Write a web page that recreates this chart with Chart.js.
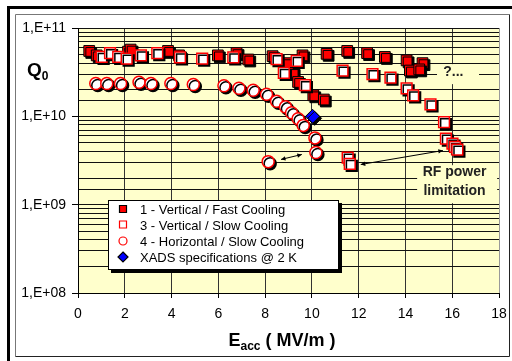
<!DOCTYPE html>
<html>
<head>
<meta charset="utf-8">
<script src="https://cdn.jsdelivr.net/npm/chart.js@4"></script>
<style>
  html, body { margin: 0; padding: 0; background: #fff; }
  #wrap { position: relative; width: 512px; height: 361px; overflow: hidden; }
  #outer { position: absolute; left: 7px; top: 6px; width: 600px; height: 500px; border: 3px solid #000; box-sizing: border-box; }
  canvas { position: absolute; left: 0; top: 0; }
</style>
</head>
<body>
<div id="wrap">
  <div id="outer"></div>
  <canvas id="chart" width="512" height="361"></canvas>
</div>
<script>
// ─── DATA ────────────────────────────────────────────────────────
// Eacc in MV/m, Q0 dimensionless
const fastE = [0.48, 0.80, 2.14, 2.25, 3.85, 4.32, 5.98, 6.78, 7.28, 8.32, 8.94, 9.60, 9.18, 9.41, 10.06, 10.51, 10.63, 11.51, 12.36, 13.12, 14.05, 14.73, 14.19, 14.59];
const fastQ = [5.5e10, 4.9e10, 5.4e10, 5.7e10, 5.5e10, 4.9e10, 4.9e10, 5.2e10, 4.4e10, 4.8e10, 4.0e10, 4.9e10, 3.1e10, 2.45e10, 1.73e10, 1.55e10, 5.1e10, 5.5e10, 5.2e10, 4.7e10, 4.3e10, 4.0e10, 3.3e10, 3.4e10];

const slowE = [1.01, 1.37, 1.72, 2.08, 2.69, 3.39, 4.36, 5.31, 6.64, 8.49, 9.35, 8.80, 9.70, 11.31, 12.59, 13.36, 14.05, 14.33, 15.07, 15.65, 15.73, 16.01, 16.12, 16.22, 11.53, 11.62];
const slowQ = [4.7e10, 5.2e10, 4.7e10, 4.5e10, 4.9e10, 5.2e10, 4.65e10, 4.5e10, 4.65e10, 4.45e10, 4.25e10, 3.1e10, 2.25e10, 3.3e10, 3.0e10, 2.75e10, 2.07e10, 1.73e10, 1.37e10, 8.6e9, 5.6e9, 4.9e9, 4.5e9, 4.2e9, 3.4e9, 2.9e9];

const horizE = [0.76, 1.23, 1.82, 2.61, 3.12, 3.97, 4.93, 6.24, 6.88, 7.49, 8.06, 8.49, 8.87, 9.13, 9.41, 9.63, 10.13, 10.17, 8.13];
const horizQ = [2.35e10, 2.35e10, 2.35e10, 2.43e10, 2.35e10, 2.35e10, 2.29e10, 2.22e10, 2.08e10, 1.97e10, 1.78e10, 1.48e10, 1.28e10, 1.10e10, 9.4e9, 7.9e9, 5.7e9, 3.9e9, 3.07e9];

const xadsE = [10.03];
const xadsQ = [1.0e10];

const seriesLabels = [
  "1 - Vertical / Fast Cooling",
  "3 - Vertical / Slow Cooling",
  "4 - Horizontal / Slow Cooling",
  "XADS specifications @ 2 K"
];

const xTicks = [0, 2, 4, 6, 8, 10, 12, 14, 16, 18];
const yDecades = [1e8, 1e9, 1e10, 1e11];

// Helper: zip two arrays into {x, y} points
function toPoints(xs, ys) {
  return xs.map((x, i) => ({ x: x, y: ys[i] }));
}

function isDecade(v) {
  const l = Math.log10(v);
  return Math.abs(l - Math.round(l)) < 1e-9;
}

function sciLabel(v) {
  const exp = Math.round(Math.log10(v));
  return "1,E+" + String(exp).padStart(2, "0");
}

const FONT = "'Liberation Sans', Arial, sans-serif";

// ─── PLUGINS ─────────────────────────────────────────────────────
// Plot background + inner frame
const backdrop = {
  id: "backdrop",
  beforeDraw(chart) {
    const { ctx, chartArea: a } = chart;
    ctx.save();
    ctx.fillStyle = "#fff";
    ctx.fillRect(15, 14, 494, 342);
    ctx.strokeStyle = "#777";
    ctx.lineWidth = 1;
    ctx.beginPath();
    ctx.moveTo(15.5, 356.5); ctx.lineTo(15.5, 14.5); ctx.lineTo(509.5, 14.5);
    ctx.stroke();
    ctx.strokeStyle = "#222";
    ctx.beginPath();
    ctx.moveTo(509.5, 14.5); ctx.lineTo(509.5, 356.5); ctx.lineTo(15.5, 356.5);
    ctx.stroke();
    ctx.fillStyle = "#FFFFCC";
    ctx.fillRect(a.left, a.top, a.right - a.left, a.bottom - a.top);
    ctx.restore();
  }
};

// Drop shadow under the markers
const markerShadow = {
  id: "markerShadow",
  beforeDatasetsDraw(chart) {
    const ctx = chart.ctx;
    ctx.save();
    ctx.shadowColor = "#000";
    ctx.shadowOffsetX = 2;
    ctx.shadowOffsetY = 2;
    ctx.shadowBlur = 0;
  },
  afterDatasetsDraw(chart) {
    chart.ctx.restore();
  }
};

// Annotations, axis titles and the legend box
const notes = {
  id: "notes",
  beforeDatasetsDraw(chart) {
    const { ctx, scales: { x, y } } = chart;
    ctx.save();
    // boxes that hide the grid behind the notes
    ctx.fillStyle = "#FFFFCC";
    ctx.fillRect(x.getPixelForValue(15.35), y.getPixelForValue(3.9e10), 42, 20);
    ctx.fillRect(x.getPixelForValue(14.5), y.getPixelForValue(2.8e9), 80, 38);

    ctx.fillStyle = "#222";
    ctx.font = "bold 14px " + FONT;
    ctx.textAlign = "center";
    ctx.textBaseline = "middle";
    ctx.fillText("?...", x.getPixelForValue(16.05), y.getPixelForValue(3.16e10));
    ctx.fillText("RF power", x.getPixelForValue(16.1), y.getPixelForValue(2.31e9));
    ctx.fillText("limitation", x.getPixelForValue(16.1), y.getPixelForValue(1.44e9));

    // double headed arrows
    drawArrow(ctx, x.getPixelForValue(8.68), y.getPixelForValue(3.25e9), x.getPixelForValue(9.57), y.getPixelForValue(3.7e9));
    drawArrow(ctx, x.getPixelForValue(12.09), y.getPixelForValue(2.85e9), x.getPixelForValue(15.6), y.getPixelForValue(4.1e9));
    ctx.restore();
  },
  afterDraw(chart) {
    const ctx = chart.ctx;
    ctx.save();
    ctx.fillStyle = "#000";
    ctx.textBaseline = "alphabetic";
    ctx.textAlign = "left";

    // Q0 label
    ctx.font = "bold 19px " + FONT;
    ctx.fillText("Q", 27, 76);
    const qw = ctx.measureText("Q").width;
    ctx.font = "bold 12px " + FONT;
    ctx.fillText("0", 27 + qw, 80);

    // Eacc ( MV/m )
    ctx.font = "bold 18px " + FONT;
    const wE = ctx.measureText("E").width;
    const wRest = ctx.measureText(" ( MV/m )").width;
    ctx.font = "bold 12px " + FONT;
    const wSub = ctx.measureText("acc").width;
    let tx = 282 - (wE + wSub + wRest) / 2;
    ctx.font = "bold 18px " + FONT;
    ctx.fillText("E", tx, 346);
    tx += wE;
    ctx.font = "bold 12px " + FONT;
    ctx.fillText("acc", tx, 350);
    tx += wSub;
    ctx.font = "bold 18px " + FONT;
    ctx.fillText(" ( MV/m )", tx, 346);

    // Legend
    ctx.fillStyle = "#000";
    ctx.fillRect(111, 203, 231, 70);
    ctx.fillStyle = "#fff";
    ctx.fillRect(108, 200, 231, 70);
    ctx.strokeStyle = "#000";
    ctx.lineWidth = 1;
    ctx.strokeRect(108.5, 200.5, 230, 69);

    const rows = [209.5, 225, 241, 257];
    const ds = chart.data.datasets;
    ds.forEach((d, i) => {
      const cy = rows[i];
      ctx.fillStyle = d.backgroundColor;
      ctx.strokeStyle = d.borderColor;
      ctx.lineWidth = 1.2;
      ctx.beginPath();
      if (d.pointStyle === "rect") {
        ctx.rect(119.5, cy - 4, 7, 7);
      } else if (d.pointStyle === "circle") {
        ctx.arc(123, cy, 4, 0, Math.PI * 2);
      } else {
        ctx.moveTo(123, cy - 5); ctx.lineTo(128, cy); ctx.lineTo(123, cy + 5); ctx.lineTo(118, cy); ctx.closePath();
      }
      ctx.fill();
      ctx.stroke();
      ctx.fillStyle = "#000";
      ctx.font = "13px " + FONT;
      ctx.textBaseline = "middle";
      ctx.fillText(d.label, 140, cy + 1);
    });
    ctx.restore();
  }
};

function drawArrow(ctx, x1, y1, x2, y2) {
  const ang = Math.atan2(y2 - y1, x2 - x1);
  const h = 5;
  ctx.strokeStyle = "#000";
  ctx.fillStyle = "#000";
  ctx.lineWidth = 1;
  ctx.beginPath();
  ctx.moveTo(x1, y1);
  ctx.lineTo(x2, y2);
  ctx.stroke();
  [[x1, y1, ang + Math.PI], [x2, y2, ang]].forEach(([px, py, a]) => {
    ctx.beginPath();
    ctx.moveTo(px, py);
    ctx.lineTo(px - h * Math.cos(a - 0.45), py - h * Math.sin(a - 0.45));
    ctx.lineTo(px - h * Math.cos(a + 0.45), py - h * Math.sin(a + 0.45));
    ctx.closePath();
    ctx.fill();
  });
}

// ─── CHART ───────────────────────────────────────────────────────
new Chart(document.getElementById("chart"), {
  type: "scatter",
  data: {
    datasets: [
      {
        label: seriesLabels[0],
        data: toPoints(fastE, fastQ),
        pointStyle: "rect",
        pointRadius: 7.6,
        backgroundColor: "#FF0000",
        borderColor: "#000",
        borderWidth: 1,
        order: 3
      },
      {
        label: seriesLabels[1],
        data: toPoints(slowE, slowQ),
        pointStyle: "rect",
        pointRadius: 7.6,
        backgroundColor: "#FFFFFF",
        borderColor: "#FF0000",
        borderWidth: 1.5,
        order: 2
      },
      {
        label: seriesLabels[2],
        data: toPoints(horizE, horizQ),
        pointStyle: "circle",
        pointRadius: 6,
        backgroundColor: "#FFFFFF",
        borderColor: "#FF0000",
        borderWidth: 1.5,
        order: 1
      },
      {
        label: seriesLabels[3],
        data: toPoints(xadsE, xadsQ),
        pointStyle: "rectRot",
        pointRadius: 7,
        backgroundColor: "#0000FF",
        borderColor: "#000",
        borderWidth: 1,
        order: 0
      }
    ]
  },
  options: {
    responsive: false,
    animation: false,
    events: [],
    layout: { padding: { left: 0, top: 28, right: 13, bottom: 0 } },
    plugins: {
      legend: { display: false },
      tooltip: { enabled: false }
    },
    scales: {
      x: {
        type: "linear",
        min: 0,
        max: 18,
        afterFit: s => { s.height = 68; s.paddingLeft = 0; s.paddingRight = 0; },
        afterBuildTicks: s => { s.ticks = xTicks.map(v => ({ value: v })); },
        border: { color: "#000", width: 1 },
        grid: {
          color: c => (c.tick && c.tick.value === 18 ? "#999" : "#333"),
          tickColor: "#000",
          tickLength: 5
        },
        ticks: {
          color: "#000",
          font: { family: FONT, size: 14 },
          padding: 8,
          maxRotation: 0
        }
      },
      y: {
        type: "logarithmic",
        min: yDecades[0],
        max: yDecades[yDecades.length - 1],
        afterFit: s => { s.width = 78; s.paddingTop = 0; s.paddingBottom = 0; },
        border: { color: "#000", width: 1 },
        grid: {
          color: "#111",
          tickColor: c => (c.tick && isDecade(c.tick.value) ? "#000" : "rgba(0,0,0,0)"),
          tickLength: 6
        },
        ticks: {
          autoSkip: false,
          color: "#000",
          font: { family: FONT, size: 14 },
          padding: 6,
          callback: v => (isDecade(v) ? sciLabel(v) : "")
        }
      }
    }
  },
  plugins: [backdrop, notes, markerShadow]
});
</script>
</body>
</html>
